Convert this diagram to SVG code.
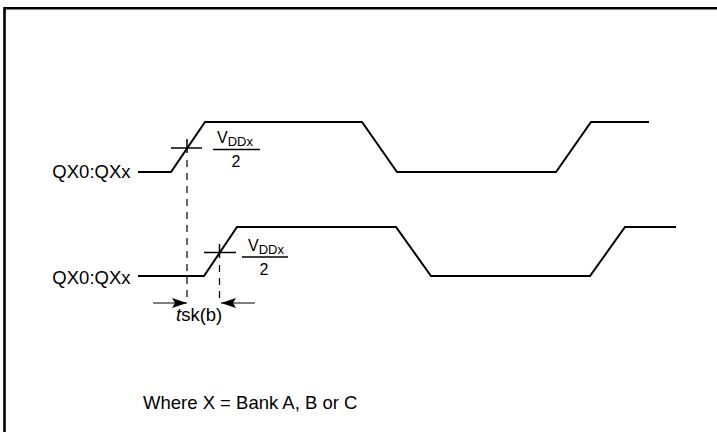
<svg xmlns="http://www.w3.org/2000/svg" width="717" height="432" viewBox="0 0 717 432">
<defs>
<style>
.wave{fill:none;stroke:#000;stroke-width:2;stroke-linejoin:miter}
.tick{fill:none;stroke:#000;stroke-width:1.5}
.dash{fill:none;stroke:#000;stroke-width:1.2;stroke-dasharray:7 6}
.lbl{font-family:"Liberation Sans",Arial,sans-serif;font-size:18.5px;fill:#000}
.v{font-family:"Liberation Sans",Arial,sans-serif;font-size:16px;fill:#000}
.sub{font-size:13px}
</style>
<marker id="ah" markerWidth="15" markerHeight="10" refX="15" refY="5" orient="auto" markerUnits="userSpaceOnUse">
<path d="M0,0 L15,5 L0,10 L3,5 Z" fill="#000"/>
</marker>
</defs>
<rect x="0" y="0" width="717" height="432" fill="#fff"/>
<path d="M4.5,440 V8.3 H720" fill="none" stroke="#000" stroke-width="2.6"/>
<g id="signal-top">
<text class="lbl" x="130.5" y="178" text-anchor="end">QX0:QXx</text>
<polyline class="wave" points="138,172 171,172 205,122 362,122 397,172 556,172 591,122 649,122"/>
</g>
<g id="signal-bottom">
<text class="lbl" x="130.5" y="284" text-anchor="end">QX0:QXx</text>
<polyline class="wave" points="138,276 204,276 237,227 396,227 431,276 590,276 625,227 676,227"/>
</g>
<g id="label-top">
<line class="tick" x1="171" y1="148" x2="202" y2="148"/>
<line class="tick" x1="187" y1="139" x2="187" y2="153"/>
<text class="v" x="217" y="143">V<tspan class="sub" dy="3">DDx</tspan></text>
<line class="tick" x1="213" y1="149.5" x2="260" y2="149.5" stroke-width="1.2"/>
<text class="v" x="236" y="167" text-anchor="middle" font-size="17">2</text>
</g>
<g id="label-bottom">
<line class="tick" x1="204" y1="252.5" x2="236" y2="252.5"/>
<line class="tick" x1="219.5" y1="244" x2="219.5" y2="258"/>
<text class="v" x="248" y="251">V<tspan class="sub" dy="3">DDx</tspan></text>
<line class="tick" x1="242" y1="257" x2="288" y2="257" stroke-width="1.2"/>
<text class="v" x="264" y="275" text-anchor="middle" font-size="17">2</text>
</g>
<g id="connectors">
<line class="dash" x1="187" y1="160" x2="187" y2="298"/>
<line class="dash" x1="219.5" y1="265" x2="219.5" y2="298"/>
<line x1="153" y1="303" x2="187" y2="303" stroke="#000" stroke-width="1.2" marker-end="url(#ah)"/>
<line x1="255" y1="303" x2="221" y2="303" stroke="#000" stroke-width="1.2" marker-end="url(#ah)"/>
</g>
<g id="skew-label">
<text class="lbl" x="176" y="321"><tspan font-style="italic">t</tspan>sk(b)</text>
</g>
<g id="note">
<text class="lbl" x="143" y="409">Where X = Bank A, B or C</text>
</g>
</svg>
